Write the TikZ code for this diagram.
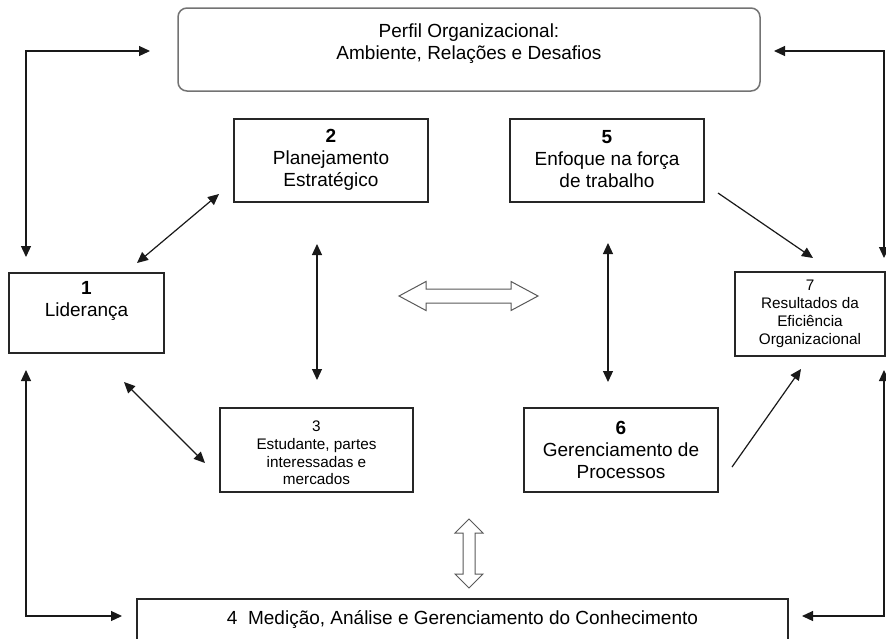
\documentclass[tikz,border=0pt]{standalone}
\usepackage{fontspec}
\setmainfont{Liberation Sans}
\usetikzlibrary{arrows.meta}
\begin{document}
\begin{tikzpicture}[x=1pt,y=-1pt,
  box/.style={draw=black!85, line width=1.2pt, inner sep=0pt},
  txt/.style={align=center, inner sep=0pt, font=\fontsize{19}{22}\selectfont},
  small/.style={align=center, inner sep=0pt, font=\fontsize{15.3}{17.8}\selectfont},
  conn/.style={draw=black!90, line width=1.2pt},
  dbl/.style={conn, {Triangle[length=11pt,width=10pt]}-{Triangle[length=11pt,width=10pt]}},
  sgl/.style={conn, -{Triangle[length=11pt,width=10pt]}},
  hollow/.style={draw=black!65, line width=1pt, fill=white}
]
\useasboundingbox (0,0) rectangle (886,638);
\clip (0,0) rectangle (886,638);

% top rounded box
\node[draw=black!55, line width=1.5pt, rounded corners=9pt, minimum width=582pt, minimum height=83pt, inner sep=0pt] (top) at (469,49.5) {};
\node[txt] (ttop) at (469,44) {Perfil Organizacional:\\Ambiente, Relações e Desafios};

% boxes
\node[box, minimum width=194pt, minimum height=83pt] (b2) at (331,160.5) {};
\node[txt] (t2) at (331,160) {\textbf{2}\\Planejamento\\Estratégico};

\node[box, minimum width=194pt, minimum height=83pt] (b5) at (607,160.5) {};
\node[txt] (t5) at (607,159) {\textbf{5}\\Enfoque na força\\de trabalho};

\node[box, minimum width=155pt, minimum height=80pt] (b1) at (86.5,313) {};
\node[txt] (t1) at (86.5,301) {\textbf{1}\\Liderança};

\node[box, minimum width=150pt, minimum height=84pt] (b7) at (810,314) {};
\node[small] (t7) at (810,314) {7\\Resultados da\\Eficiência\\Organizacional};

\node[box, minimum width=193pt, minimum height=84pt] (b3) at (316.5,450) {};
\node[small] (t3) at (316.5,453) {3\\Estudante, partes\\interessadas e\\mercados};

\node[box, minimum width=194pt, minimum height=84pt] (b6) at (621,450) {};
\node[txt] (t6) at (621,450) {\textbf{6}\\Gerenciamento de\\Processos};

\node[box, minimum width=651pt, minimum height=61pt] (b4) at (462.5,629.5) {};
\node[txt] (t4) at (462.5,620) {4\ \ Medição, Análise e Gerenciamento do Conhecimento};

% coordinates for free connector ends
\coordinate (lt1) at (150,51);
\coordinate (lt2) at (26,51);
\coordinate (lt3) at (26,257);
\coordinate (rt1) at (774,51);
\coordinate (rt2) at (884,51);
\coordinate (rt3) at (884,258);
\coordinate (lb1) at (26,370);
\coordinate (lb2) at (26,616);
\coordinate (lb3) at (122,616);
\coordinate (rb1) at (884,370);
\coordinate (rb2) at (884,616);
\coordinate (rb3) at (802,616);
\coordinate (d21a) at (219,194);
\coordinate (d21b) at (137,263);
\coordinate (d13a) at (124,382);
\coordinate (d13b) at (205,463);
\coordinate (v23a) at (317,244);
\coordinate (v23b) at (317,380);
\coordinate (v56a) at (608,243);
\coordinate (v56b) at (608,382);
\coordinate (a57a) at (718,193);
\coordinate (a57b) at (813,258);
\coordinate (a67a) at (732,467);
\coordinate (a67b) at (801,369);

\draw[dbl] (lt1) -- (lt2) -- (lt3);
\draw[dbl] (rt1) -- (rt2) -- (rt3);
\draw[dbl] (lb1) -- (lb2) -- (lb3);
\draw[dbl] (rb1) -- (rb2) -- (rb3);
\draw[dbl] (d21a) -- (d21b);
\draw[dbl] (d13a) -- (d13b);
\draw[dbl] (v23a) -- (v23b);
\draw[dbl] (v56a) -- (v56b);
\draw[sgl] (a57a) -- (a57b);
\draw[sgl] (a67a) -- (a67b);

% hollow double arrows
\draw[hollow] (399,296) -- (426,281.5) -- (426,289) -- (511,289) -- (511,281.5) -- (538,296)
  -- (511,310.5) -- (511,303) -- (426,303) -- (426,310.5) -- cycle;
\draw[hollow] (469,519) -- (483,533) -- (475,533) -- (475,574) -- (483,574) -- (469,588)
  -- (455,574) -- (463,574) -- (463,533) -- (455,533) -- cycle;
\end{tikzpicture}
\end{document}
